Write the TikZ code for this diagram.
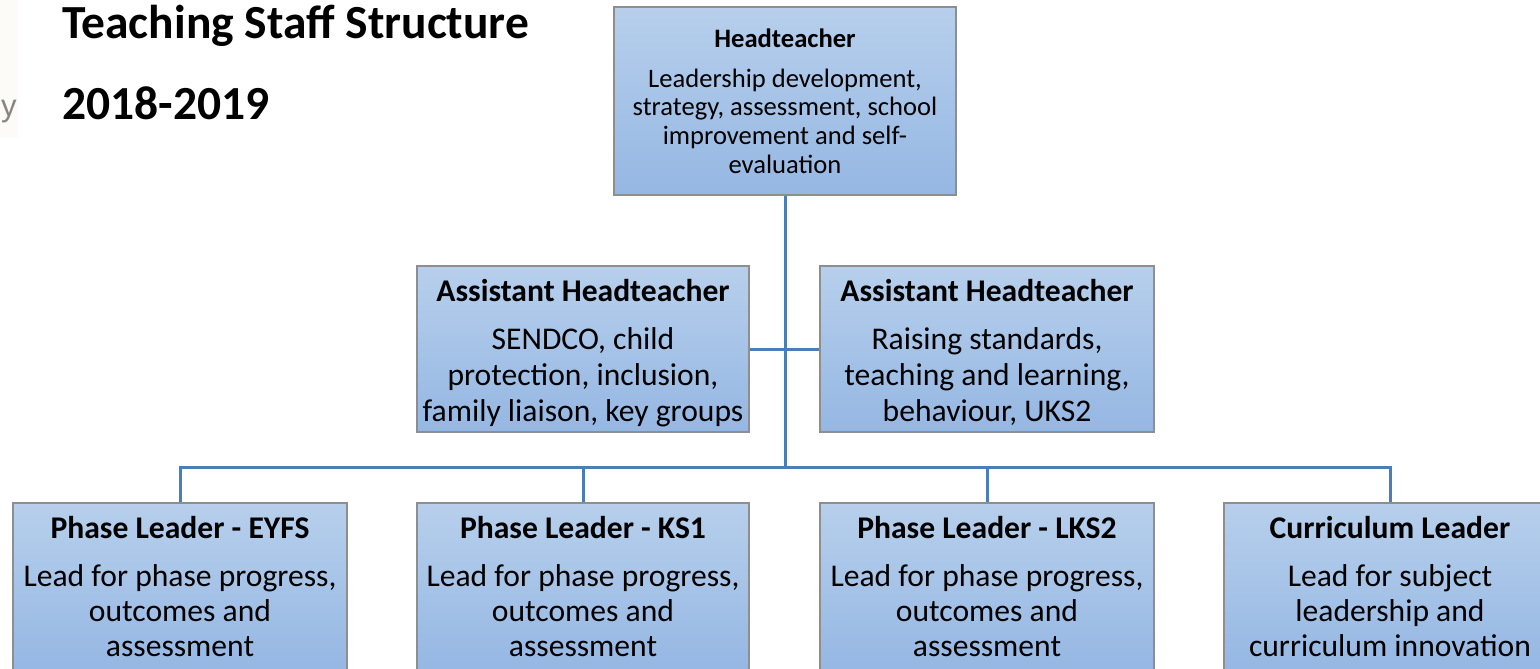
\documentclass[tikz,border=0pt]{standalone}
\usepackage{fontspec}
\setmainfont{Carlito}
\newfontfamily\fragfont{Liberation Sans}
\definecolor{boxtop}{HTML}{B7CFEC}
\definecolor{boxbot}{HTML}{95B7E3}
\definecolor{boxline}{HTML}{8E8E8E}
\definecolor{conn}{HTML}{4A7EBB}
\definecolor{fragbg}{HTML}{FDFBF7}
\definecolor{fragtx}{HTML}{8A8480}
\tikzset{
  orgbox/.style={draw=boxline, line width=1.3pt, top color=boxtop, bottom color=boxbot,
    inner sep=0pt, align=center, font=\fontsize{31.6}{36}\selectfont},
  lowbox/.style={orgbox, font=\fontsize{31.6}{35}\selectfont},
  headbox/.style={orgbox, font=\fontsize{26.6}{28.7}\selectfont},
  link/.style={draw=conn, line width=3pt},
  titletext/.style={anchor=base west, inner sep=0pt, font=\fontsize{47.5}{57}\selectfont\bfseries}
}
\begin{document}
\begin{tikzpicture}[x=1pt,y=-1pt]
\clip (0,0) rectangle (1540,669);
\fill[white] (0,0) rectangle (1540,669);
% cropped fragment on the left edge
\fill[fragbg] (0,0) rectangle (18,138);
\node[anchor=base west, inner sep=0pt, text=fragtx, font=\fontsize{31}{34}\fragfont] (frag) at (1,116) {y};
% titles
\node[titletext] (t1) at (62,39) {Teaching Staff Structure};
\node[titletext] (t2) at (62,119) {2018-2019};
% boxes
\node[headbox, minimum width=342pt, minimum height=188pt] (ht) at (785,101)
  {{\bfseries Headteacher}\\[11pt]Leadership development,\\strategy, assessment, school\\improvement and self-\\evaluation};
\node[orgbox, minimum width=332pt, minimum height=166pt] (al) at (583,349)
  {\rule{0pt}{30pt}{\bfseries Assistant Headteacher}\\[12pt]SENDCO, child\\protection, inclusion,\\family liaison, key groups};
\node[orgbox, minimum width=334pt, minimum height=166pt] (ar) at (987,349)
  {\rule{0pt}{30pt}{\bfseries Assistant Headteacher}\\[12pt]Raising standards,\\teaching and learning,\\behaviour, UKS2};
\node[lowbox, minimum width=334pt, minimum height=168pt] (eyfs) at (180,587)
  {{\bfseries Phase Leader - EYFS}\\[13pt]Lead for phase progress,\\outcomes and\\assessment};
\node[lowbox, minimum width=332pt, minimum height=168pt] (ks1) at (583,587)
  {{\bfseries Phase Leader - KS1}\\[13pt]Lead for phase progress,\\outcomes and\\assessment};
\node[lowbox, minimum width=334pt, minimum height=168pt] (lks2) at (987,587)
  {{\bfseries Phase Leader - LKS2}\\[13pt]Lead for phase progress,\\outcomes and\\assessment};
\node[lowbox, minimum width=332pt, minimum height=168pt] (cur) at (1390,587)
  {{\bfseries Curriculum Leader}\\[13pt]Lead for subject\\leadership and\\curriculum innovation};
% connectors
\coordinate (bus) at (785,467);
\path[link] (ht.south) -- (bus);
\path[link] (al.east) -- (ar.west);
\path[link] (eyfs.north) |- (bus);
\path[link] (ks1.north) |- (bus);
\path[link] (lks2.north) |- (bus);
\path[link] (cur.north) |- (bus);
\end{tikzpicture}
\end{document}
